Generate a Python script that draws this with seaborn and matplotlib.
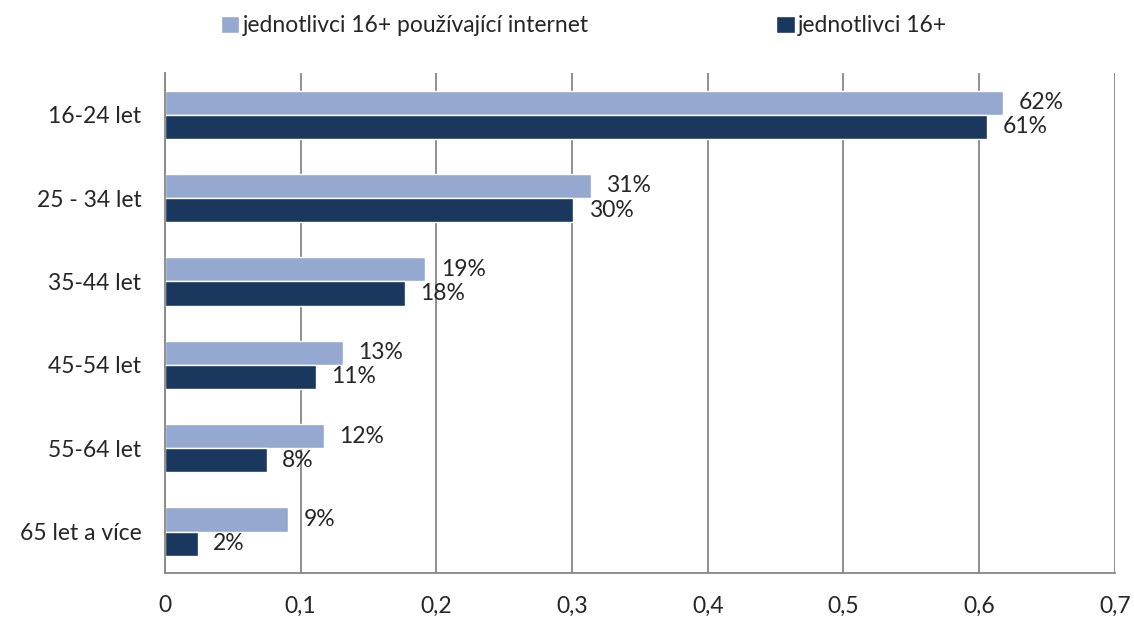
import pandas as pd
import matplotlib.pyplot as plt
import seaborn as sns
from matplotlib.ticker import FixedLocator, FuncFormatter

# values
age_groups = ['16-24 let', '25 - 34 let', '35-44 let', '45-54 let', '55-64 let', '65 let a více']
internet_users = [0.618, 0.314, 0.192, 0.131, 0.117, 0.091]
all_16plus = [0.606, 0.301, 0.177, 0.111, 0.075, 0.024]
internet_labels = ['62%', '31%', '19%', '13%', '12%', '9%']
all_labels = ['61%', '30%', '18%', '11%', '8%', '2%']
series_names = ['jednotlivci 16+ používající internet', 'jednotlivci 16+']
colors = ['#95A9D0', '#1A375E']

df = pd.DataFrame({
    'group': age_groups * 2,
    'share': internet_users + all_16plus,
    'series': [series_names[0]] * len(age_groups) + [series_names[1]] * len(age_groups),
})

sns.set_style('white')
plt.rcParams['font.family'] = ['Lato', 'DejaVu Sans']
fs = 16.5

fig, ax = plt.subplots(figsize=(11.34, 6.19), dpi=100)
fig.subplots_adjust(left=0.1455, right=0.983, bottom=0.074, top=0.882)

sns.barplot(data=df, x='share', y='group', hue='series', orient='h',
            palette=colors, width=0.58, ax=ax, saturation=1)

for container, labels in zip(ax.containers, [internet_labels, all_labels]):
    ax.bar_label(container, labels=labels, padding=11, fontsize=fs)

ax.set_xlim(0, 0.7)
ax.set_ylim(len(age_groups) - 0.5, -0.5)
ax.set_xticks([i / 10 for i in range(8)])
ax.xaxis.set_major_formatter(FuncFormatter(lambda v, p: '0' if v == 0 else f'{v:.1f}'.replace('.', ',')))
ax.yaxis.set_minor_locator(FixedLocator([i - 0.5 for i in range(len(age_groups) + 1)]))
ax.tick_params(axis='y', which='major', length=0, pad=17, labelsize=fs)
ax.tick_params(axis='y', which='minor', length=6, color='#868686', width=1.2)
ax.tick_params(axis='x', length=6, color='#868686', width=1.2, pad=10, labelsize=fs)
ax.set_xlabel('')
ax.set_ylabel('')

ax.grid(axis='x', color='#868686', linewidth=1.3)
ax.set_axisbelow(True)
for side in ['top', 'right']:
    ax.spines[side].set_visible(False)
for side in ['left', 'bottom']:
    ax.spines[side].set_color('#868686')
    ax.spines[side].set_linewidth(1.3)

handles, labels = ax.get_legend_handles_labels()
ax.get_legend().remove()
fig.legend(handles, labels, loc='center', bbox_to_anchor=(0.515, 0.958), ncol=2,
           frameon=False, fontsize=fs, handlelength=0.8, handleheight=0.8,
           handletextpad=0.15, columnspacing=8.2)

fig.savefig('out.png', dpi=100)
